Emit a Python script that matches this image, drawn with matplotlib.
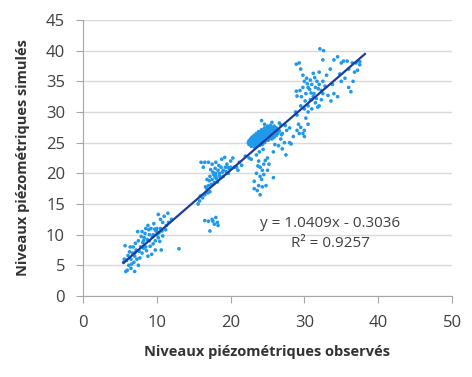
import numpy as np
import matplotlib
matplotlib.use("Agg")
import matplotlib.pyplot as plt

# =======================
# Data (observé, simulé) read off the chart
# =======================

groupe_bas = [
    (5.5, 5.5), (5.6, 6.0), (5.7, 8.2), (5.8, 4.0), (6.0, 4.2), (6.2, 5.0), (6.5, 6.0),
    (6.7, 7.0), (7.0, 4.0), (7.0, 6.5), (7.2, 7.5), (7.5, 9.0), (7.5, 5.0), (7.8, 8.0),
    (8.0, 10.5), (8.0, 7.0), (8.3, 9.5), (8.5, 11.0), (8.5, 8.0), (8.8, 6.5), (9.0, 10.0),
    (9.0, 9.0), (9.2, 11.0), (9.5, 8.5), (9.5, 10.0), (9.8, 7.5), (10.0, 10.0), (10.0, 11.0),
    (10.2, 9.5), (10.5, 12.5), (10.5, 11.0), (10.6, 7.5), (10.8, 12.0), (11.0, 13.0),
    (11.3, 11.5), (11.5, 13.5), (12.0, 12.5), (13.0, 7.7), (6.3, 7.2), (6.8, 8.0), (7.3, 6.0),
    (8.2, 7.8), (9.3, 6.8), (10.2, 13.3), (9.8, 9.0), (8.7, 9.2), (7.9, 9.7), (6.5, 4.5),
    (6.9, 5.5), (7.4, 10.5), (8.8, 11.5), (10.3, 10.3), (9.6, 11.8), (8.1, 8.7), (7.6, 7.3),
    (10.8, 9.8), (11.2, 10.8), (6.1, 6.6), (6.6, 5.2), (7.1, 8.6), (8.4, 10.2), (9.1, 8.1),
    (9.9, 10.6), (10.4, 8.9), (11.6, 12.0), (7.7, 6.2), (8.6, 7.4), (5.9, 5.8), (6.4, 8.0),
    (8.9, 10.8), (9.4, 9.6), (10.1, 10.4), (10.7, 10.6), (7.0, 7.0), (8.2, 9.0), (9.7, 10.9),
]

groupe_moyen = [
    (16.0, 21.8), (16.5, 21.8), (17.0, 21.8), (17.5, 21.5), (18.0, 21.8), (16.3, 21.0),
    (15.6, 15.0), (15.8, 15.5), (16.2, 16.0), (16.5, 16.5), (16.8, 17.5), (17.0, 18.0),
    (17.2, 17.0), (17.5, 19.0), (17.8, 18.5), (18.0, 20.0), (18.0, 19.5), (18.3, 20.5),
    (18.5, 20.0), (18.7, 21.0), (19.0, 20.5), (19.0, 19.5), (19.3, 21.0), (19.5, 21.5),
    (19.7, 20.0), (20.0, 22.0), (20.0, 21.0), (20.3, 22.5), (20.5, 21.0), (20.8, 21.0),
    (17.2, 19.5), (16.8, 19.0), (17.6, 20.2), (18.8, 22.3), (16.9, 16.8), (17.4, 18.2),
    (15.9, 16.3), (19.2, 22.6), (21.0, 20.5), (21.5, 21.3), (22.0, 22.8), (22.5, 22.5),
    (22.8, 22.3), (21.2, 21.8), (17.9, 20.8), (18.2, 18.6), (18.6, 19.3), (19.4, 20.3),
    (17.7, 19.8), (18.4, 21.3), (19.8, 20.8), (16.6, 17.8), (17.1, 18.8), (18.1, 19.1),
    (18.9, 20.2), (17.3, 20.6), (19.6, 21.0), (18.5, 19.6), (17.9, 19.4),
    (16.5, 12.3), (17.0, 12.2), (17.2, 10.6), (17.5, 12.5), (17.8, 11.7), (18.0, 12.8),
    (18.2, 12.0), (18.3, 11.5), (17.6, 12.2),
]

groupe_dense = [
    (22.8, 24.4), (23.2, 24.3), (23.6, 24.5),
    (22.5, 24.7), (22.9, 24.8), (23.3, 24.7), (23.7, 24.8), (24.0, 24.6), (24.3, 24.7),
    (22.4, 25.0), (22.8, 25.1), (23.1, 25.0), (23.5, 25.1), (23.9, 25.0), (24.2, 25.1), (24.6, 25.0),
    (22.5, 25.3), (22.9, 25.4), (23.2, 25.3), (23.6, 25.4), (24.0, 25.3), (24.3, 25.4),
    (24.7, 25.3), (25.1, 25.4),
    (22.7, 25.6), (23.1, 25.7), (23.4, 25.6), (23.8, 25.7), (24.1, 25.6), (24.5, 25.7),
    (24.9, 25.6), (25.3, 25.7), (25.6, 25.6),
    (22.9, 25.9), (23.3, 26.0), (23.6, 25.9), (24.0, 26.0), (24.4, 25.9), (24.7, 26.0),
    (25.1, 25.9), (25.5, 26.0), (25.9, 25.9),
    (23.2, 26.2), (23.6, 26.3), (23.9, 26.2), (24.3, 26.3), (24.6, 26.2), (25.0, 26.3),
    (25.4, 26.2), (25.8, 26.3), (26.2, 26.2),
    (23.5, 26.5), (23.9, 26.6), (24.2, 26.5), (24.6, 26.6), (24.9, 26.5), (25.3, 26.6),
    (25.7, 26.5), (26.1, 26.6), (26.4, 26.5),
    (23.8, 26.8), (24.2, 26.9), (24.6, 26.8), (25.0, 26.9), (25.4, 26.8), (25.8, 26.9),
    (26.2, 26.8), (26.6, 26.9),
    (24.2, 27.1), (24.6, 27.2), (25.0, 27.1), (25.4, 27.2), (25.8, 27.1), (26.2, 27.2), (26.5, 27.1),
    (24.6, 27.4), (25.0, 27.5), (25.4, 27.4), (25.8, 27.5), (26.2, 27.4),
    (25.0, 27.7), (25.4, 27.8), (25.9, 27.7),
    (24.2, 28.6), (25.6, 28.3), (26.8, 27.9), (24.6, 28.0), (26.9, 26.3),
]

groupe_branche = [
    (23.5, 23.0), (23.8, 22.0), (24.0, 21.0), (24.3, 20.5), (24.0, 19.5), (23.5, 20.0),
    (24.5, 21.5), (25.0, 22.5), (25.2, 21.5), (25.8, 19.3), (24.5, 19.8), (23.8, 18.0),
    (23.2, 17.5), (23.6, 17.2), (23.2, 18.7), (24.0, 16.5), (24.3, 17.8), (24.8, 18.0),
    (24.2, 19.0), (23.7, 21.2), (25.0, 20.5), (24.7, 22.1), (23.9, 23.5), (24.4, 23.9),
    (26.5, 24.5), (27.0, 24.0), (27.5, 23.0), (27.3, 25.0), (28.0, 25.0), (27.0, 26.5),
    (28.5, 26.0), (28.2, 24.8), (25.8, 23.5), (26.0, 24.7), (26.8, 25.6), (27.6, 27.0),
    (27.4, 27.8), (26.6, 28.2), (28.0, 27.4),
]

groupe_haut = [
    (29.0, 27.0), (29.2, 28.0), (29.5, 27.5), (29.8, 26.5), (30.0, 27.0), (30.2, 29.0),
    (30.5, 28.0), (29.0, 29.5), (28.8, 30.0), (30.0, 30.5), (29.5, 31.0), (30.5, 31.0),
    (31.0, 30.5), (31.5, 31.5), (31.8, 30.8), (32.0, 31.0), (32.3, 32.0), (32.5, 33.0),
    (31.2, 32.5), (30.8, 32.0), (29.3, 26.5), (30.0, 26.0), (30.5, 30.0),
    (28.9, 37.8), (29.3, 38.0), (29.5, 37.0), (29.8, 36.0), (30.0, 35.0), (30.3, 35.5),
    (30.5, 34.0), (30.8, 35.2), (31.0, 34.5), (31.2, 36.3), (31.5, 34.0), (31.7, 35.0),
    (32.0, 34.5), (32.3, 33.5), (32.5, 35.0), (32.0, 36.5), (31.3, 33.0), (30.2, 33.0),
    (29.8, 34.0), (29.4, 33.5), (29.6, 32.5), (30.7, 33.7), (31.9, 33.8), (32.8, 34.2),
    (33.0, 36.0), (32.1, 40.3), (32.6, 40.0), (32.5, 38.5), (31.0, 32.0), (30.1, 31.8),
    (29.0, 32.6), (28.9, 33.4), (30.4, 34.6), (31.4, 35.6), (30.9, 33.1), (31.6, 32.2),
    (33.5, 37.0), (34.0, 38.5), (34.5, 39.0), (35.0, 38.0), (35.3, 38.3), (35.8, 38.3),
    (36.5, 38.0), (37.0, 38.0), (37.5, 37.7), (36.0, 37.0), (34.0, 33.0), (34.5, 32.5),
    (35.0, 35.0), (35.5, 35.5), (36.0, 34.0), (36.3, 33.3), (36.8, 36.5), (37.2, 36.8),
    (34.8, 36.2), (33.8, 34.5), (33.2, 32.7), (37.5, 38.2), (36.6, 35.0), (33.6, 31.8),
]

# Trendline shown on the chart
pente = 1.0409
ordonnee = -0.3036
r2 = 0.9257
x_tendance = [5.5, 38.2]

# =======================
# Plot
# =======================

points = groupe_bas + groupe_moyen + groupe_dense + groupe_branche + groupe_haut
obs = np.array([p[0] for p in points])
sim = np.array([p[1] for p in points])

plt.rcParams['font.family'] = ['Open Sans', 'DejaVu Sans']

fig = plt.figure(figsize=(4.72, 3.77), dpi=100)
ax = fig.add_axes([83 / 472, 1 - 296 / 377, (452 - 83) / 472, (296 - 20) / 377])

ax.scatter(obs, sim, s=7, color="#2199ea", edgecolors="none", zorder=3)

xt = np.array(x_tendance)
ax.plot(xt, pente * xt + ordonnee, color="#1a3d9c", lw=1.6, zorder=4)

ax.set_xlim(0, 50)
ax.set_ylim(0, 45)
ax.set_xticks(range(0, 51, 10))
ax.set_yticks(range(0, 46, 5))
ax.grid(axis="y", color="#d9d9d9", lw=1)
ax.set_axisbelow(True)
for s in ["top", "right"]:
    ax.spines[s].set_visible(False)
for s in ["left", "bottom"]:
    ax.spines[s].set_color("#a6a6a6")
ax.tick_params(colors="#a6a6a6", labelcolor="#404040", labelsize=12, length=5)
ax.tick_params(axis="x", pad=9)
ax.tick_params(axis="y", pad=8)

ax.text(33.5, 11.9, f"y = {pente}x - {abs(ordonnee)}", ha="center", va="center",
        fontsize=11, color="#404040", zorder=5,
        bbox=dict(facecolor="white", edgecolor="none", pad=2))
ax.text(33.5, 8.5, f"R² = {r2}", ha="center", va="center", fontsize=11,
        color="#404040", zorder=5)

ax.set_xlabel("Niveaux piézométriques observés", fontsize=10.5, fontweight="bold",
              color="#333333", labelpad=10)
ax.set_ylabel("Niveaux piézométriques simulés", fontsize=10.5, fontweight="bold",
              color="#333333", labelpad=11)

fig.savefig("out.png", dpi=100)
